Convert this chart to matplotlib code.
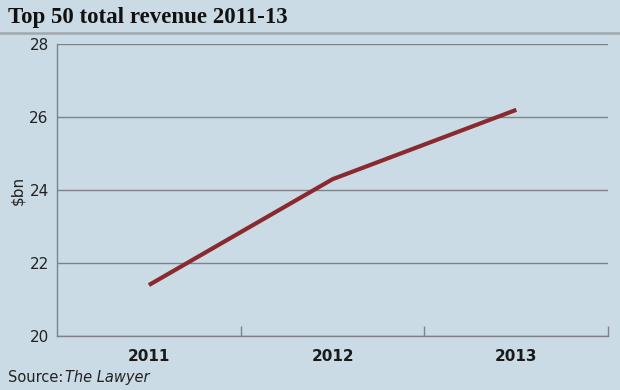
import matplotlib
matplotlib.use("Agg")
import matplotlib.pyplot as plt
import numpy as np

years = ["2011", "2012", "2013"]
revenue = [21.4, 24.3, 26.2]
yticks = [20, 22, 24, 26, 28]

bg = "#cbdbe6"
grid_col = "#7d8388"

fig = plt.figure(figsize=(6.2, 3.9), dpi=100, facecolor=bg)
ax = fig.add_axes([0.092, 0.138, 0.889, 0.749], facecolor=bg)

x = np.arange(len(years))
ax.plot(x, revenue, color="#8b2a2e", lw=3, solid_capstyle="butt", zorder=3)

ax.set_xlim(-0.5, len(years) - 0.5)
ax.set_ylim(20, 28)
ax.set_yticks(yticks)
ax.set_yticklabels([str(t) for t in yticks], fontsize=11, color="#222222")
ax.set_xticks(x)
ax.set_xticklabels(years, fontsize=11, fontweight="bold", color="#1a1a1a")
ax.set_xticks(x + 0.5, minor=True)
ax.tick_params(axis="x", which="major", length=0, pad=9)
ax.tick_params(axis="x", which="minor", direction="in", length=7, color=grid_col, width=1)
ax.tick_params(axis="y", length=0, pad=6)
ax.grid(axis="y", color=grid_col, lw=1)
for s in ["top", "right"]:
    ax.spines[s].set_visible(False)
for s in ["left", "bottom"]:
    ax.spines[s].set_color(grid_col)
    ax.spines[s].set_linewidth(1)

fig.text(18 / 620, 1 - 190 / 390, "$bn", fontsize=11, color="#222222",
         rotation=90, ha="center", va="center")

fig.text(0.013, 0.955, "Top 50 total revenue 2011-13", fontsize=16.5, fontweight="bold",
         family="Liberation Serif", color="#111111", va="center")
fig.add_artist(plt.Line2D([0, 1], [0.915, 0.915], color="#a0a8ae", lw=1.8))
fig.text(0.013, 0.033, "Source:", fontsize=10.5, color="#222222", va="center")
fig.text(0.105, 0.033, "The Lawyer", fontsize=10.5, style="italic", color="#222222", va="center")

fig.savefig("out.png", dpi=100, facecolor=bg)
